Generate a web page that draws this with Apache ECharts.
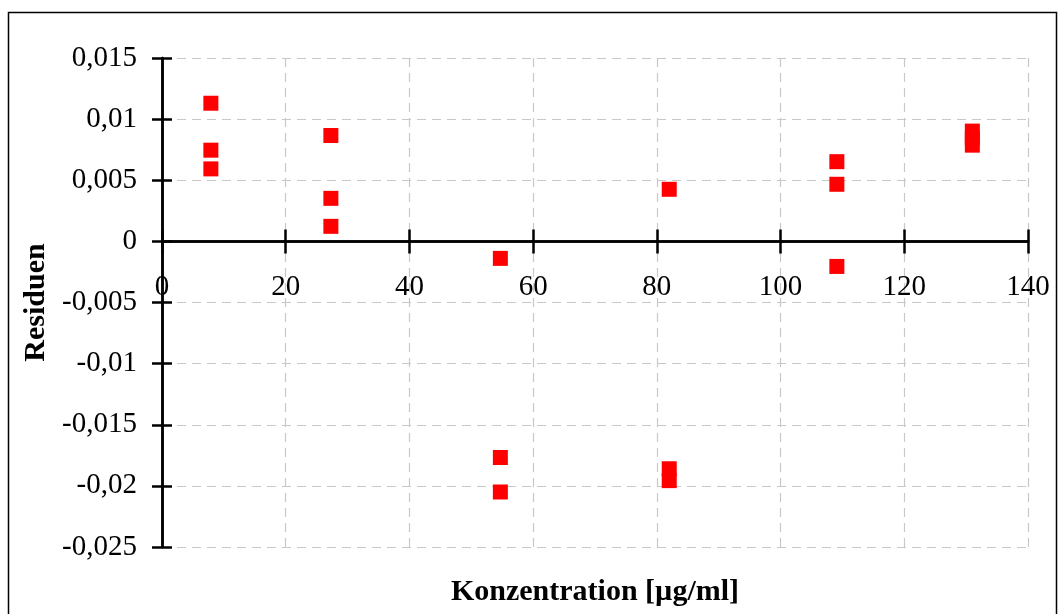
<!DOCTYPE html>
<html>
<head>
<meta charset="utf-8">
<script src="https://cdn.jsdelivr.net/npm/echarts@6/dist/echarts.min.js"></script>
<style>
  html, body { margin: 0; padding: 0; background: #fff; }
  #chart { width: 1059px; height: 614px; }
</style>
</head>
<body>
<div id="chart"></div>
<script>
// Konzentration [µg/ml] und Residuen (Dreifachbestimmung)
const konzentration = [7.9, 7.9, 7.9, 27.3, 27.3, 27.3, 54.7, 54.7, 54.7, 82.0, 82.0, 82.0, 109.1, 109.1, 109.1, 131.0, 131.0, 131.0]
const residuen = [0.0113, 0.00746, 0.00593, 0.00866, 0.00352, 0.00123, -0.00139, -0.01768, -0.0205, 0.00426, -0.0186, -0.01957, 0.00652, 0.00467, -0.00205, 0.00902, 0.00845, 0.00787]
const xTicks = [0, 20, 40, 60, 80, 100, 120, 140]
const yTicks = [-0.025, -0.02, -0.015, -0.01, -0.005, 0, 0.005, 0.01, 0.015]

const points = konzentration.map((x, i) => [x, residuen[i]])
const fontFam = '"Liberation Serif", "Times New Roman", serif'

const gridTop = 58, gridBottom = 67, chartH = 614
const yMin = yTicks[0], yMax = yTicks[yTicks.length - 1]
// x-Achse liegt auf y = 0 (mit Beschriftung), daher Versatz nach oben
const zeroOffset = -(chartH - gridTop - gridBottom) * (0 - yMin) / (yMax - yMin)

const chart = echarts.init(document.getElementById('chart'))
chart.setOption({
  animation: false,
  graphic: [{
    type: 'rect',
    shape: { x: 8.5, y: 12.5, width: 1048, height: 620 },
    style: { fill: 'none', stroke: '#000', lineWidth: 1.5 },
    silent: true
  }],
  grid: { left: 162, right: 31, top: gridTop, bottom: gridBottom, outerBoundsMode: 'none', containLabel: false },
  xAxis: [{
    type: 'value',
    min: xTicks[0],
    max: xTicks[xTicks.length - 1],
    interval: 20,
    position: 'bottom',
    offset: zeroOffset,
    name: 'Konzentration [µg/ml]',
    nameLocation: 'middle',
    nameGap: 336,
    nameTextStyle: { fontFamily: fontFam, fontSize: 30, fontWeight: 'bold', color: '#000' },
    axisLine: { onZero: false, lineStyle: { color: '#000', width: 2.5 } },
    axisTick: { show: true, length: 12, lineStyle: { color: '#000', width: 2.5 } },
    axisLabel: { fontFamily: fontFam, fontSize: 29, color: '#000', margin: 32 },
    splitLine: { show: true, lineStyle: { color: '#c8c8c8', type: [9, 6], width: 1.2 } }
  }, {
    type: 'value',
    min: xTicks[0],
    max: xTicks[xTicks.length - 1],
    interval: 20,
    position: 'bottom',
    offset: zeroOffset,
    axisLine: { onZero: false, lineStyle: { color: '#000', width: 2.5 } },
    axisTick: { show: true, inside: true, length: 12, lineStyle: { color: '#000', width: 2.5 } },
    axisLabel: { show: false },
    splitLine: { show: false }
  }],
  yAxis: [{
    type: 'value',
    min: yMin,
    max: yMax,
    interval: 0.005,
    name: 'Residuen',
    nameLocation: 'middle',
    nameGap: 109,
    nameTextStyle: { fontFamily: fontFam, fontSize: 30, fontWeight: 'bold', color: '#000' },
    axisLine: { show: true, onZero: false, lineStyle: { color: '#000', width: 2.5 } },
    axisTick: { show: true, length: 10, lineStyle: { color: '#000', width: 2.5 } },
    axisLabel: {
      fontFamily: fontFam, fontSize: 29, color: '#000', margin: 25,
      formatter: v => String(parseFloat(v.toFixed(3))).replace('.', ',')
    },
    splitLine: { show: true, lineStyle: { color: '#c8c8c8', type: [9, 6], width: 1.2 } }
  }, {
    type: 'value',
    min: yMin,
    max: yMax,
    interval: 0.005,
    position: 'left',
    axisLine: { show: true, onZero: false, lineStyle: { color: '#000', width: 2.5 } },
    axisTick: { show: true, inside: true, length: 10, lineStyle: { color: '#000', width: 2.5 } },
    axisLabel: { show: false },
    splitLine: { show: false }
  }],
  series: [{
    type: 'scatter',
    symbol: 'rect',
    symbolSize: 15,
    itemStyle: { color: '#ff0000', opacity: 1 },
    data: points
  }]
})
</script>
</body>
</html>
